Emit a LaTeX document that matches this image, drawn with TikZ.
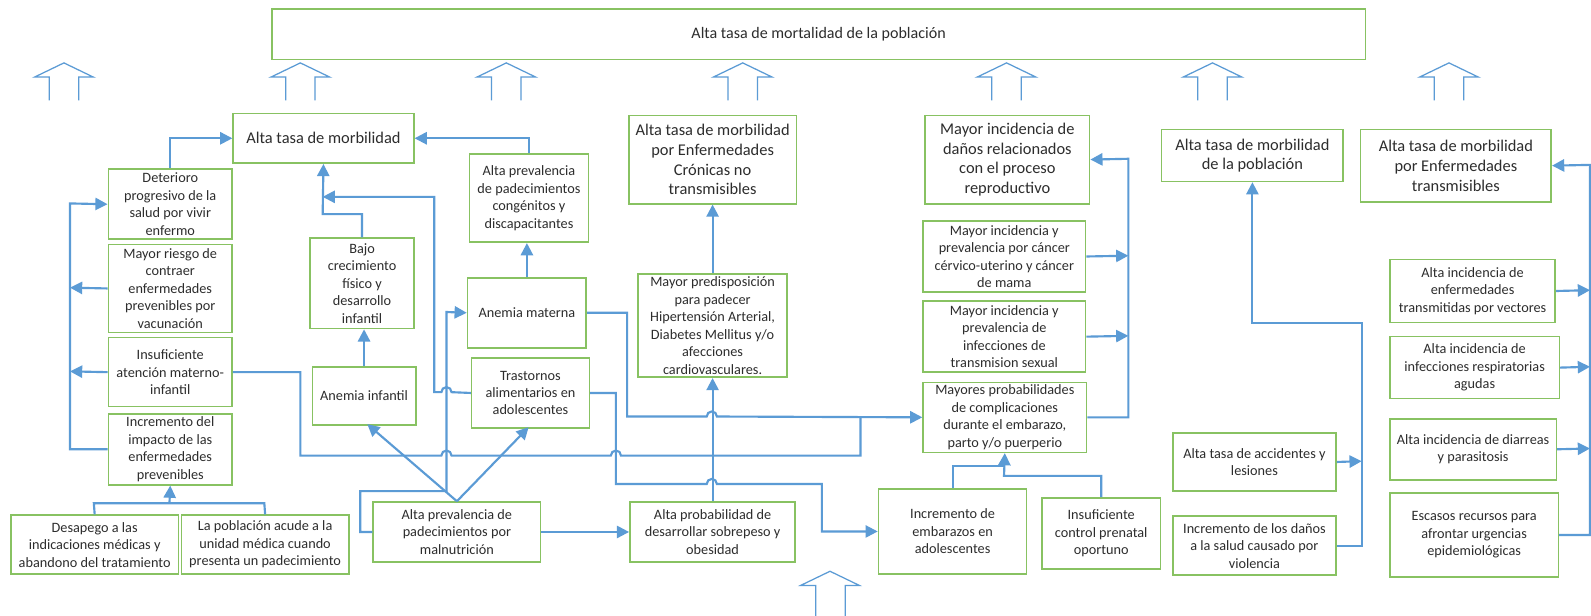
\documentclass[tikz,border=0pt]{standalone}
\usepackage{fontspec}
\setmainfont{Carlito}
\usetikzlibrary{arrows.meta}
\definecolor{verdecaja}{RGB}{136,194,98}
\definecolor{azullinea}{RGB}{91,155,213}
\definecolor{textogris}{RGB}{45,45,45}

\begin{document}
\begin{tikzpicture}[x=0.02cm, y=-0.02cm,
  caja/.style={draw=verdecaja, line width=0.9pt, fill=white, align=center, inner sep=1pt,
    text=textogris, font=\fontsize{8}{9.8}\selectfont, anchor=north west},
  cajag/.style={caja, font=\fontsize{9.2}{11.1}\selectfont},
  tam/.style 2 args={minimum width=#1*0.02cm, minimum height=#2*0.02cm},
  linea/.style={draw=azullinea, line width=1.2pt},
  flecha/.style={linea, -{Triangle[length=0.24cm, width=0.24cm]}},
  hueca/.style={draw=azullinea, line width=0.7pt}]
\useasboundingbox (0,0) rectangle (1568,607);
\fill[white] (0,0) rectangle (1568,607);

\node[caja, tam={1078}{50}, font=\fontsize{9}{11}\selectfont] (mort) at (267,8) {Alta tasa de mortalidad de la población};
\foreach \cx in {63,296,499,732,992,1195,1428}
  \draw[hueca] (\cx-14.5,99) -- (\cx-14.5,76) -- (\cx-29,76) -- (\cx,62) -- (\cx+29,76) -- (\cx+14.5,76) -- (\cx+14.5,99);
\draw[hueca] (804,607) -- (804,577) -- (789,577) -- (818,563) -- (847,577) -- (833,577) -- (833,607);

\node[cajag, tam={178}{49}] (morb) at (229,111) {Alta tasa de morbilidad};
\node[caja, tam={122}{69}] (deter) at (106,166) {Deterioro\\progresivo de la\\salud por vivir\\enfermo};
\node[caja, tam={122}{87}] (riesgo) at (106,240) {Mayor riesgo de\\contraer\\enfermedades\\prevenibles por\\vacunación};
\node[caja, tam={122}{68}] (insuf) at (106,332) {Insuficiente\\atención materno-\\infantil};
\node[caja, tam={122}{70}] (incr) at (106,407) {Incremento del\\impacto de las\\enfermedades\\prevenibles};
\node[caja, tam={165}{58}] (desap) at (10,507) {Desapego a las\\indicaciones médicas y\\abandono del tratamiento};
\node[caja, tam={165}{58}] (pobl) at (178,507) {La población acude a la\\unidad médica cuando\\presenta un padecimiento};
\node[caja, tam={102}{89}] (bajo) at (305,234) {Bajo\\crecimiento\\físico y\\desarrollo\\infantil};
\node[caja, tam={102}{57}] (aninf) at (307,361) {Anemia infantil};
\node[caja, tam={117}{87}] (congen) at (462,151) {Alta prevalencia\\de padecimientos\\congénitos y\\discapacitantes};
\node[caja, tam={117}{69}] (anmat) at (460,273) {Anemia materna};
\node[caja, tam={116}{69}] (trast) at (464,352) {Trastornos\\alimentarios en\\adolescentes};
\node[caja, tam={165}{59}] (malnut) at (367,494) {Alta prevalencia de\\padecimientos por\\malnutrición};
\node[caja, tam={163}{59}] (sobrep) at (620,494) {Alta probabilidad de\\desarrollar sobrepeso y\\obesidad};
\node[cajag, tam={165}{87}] (cronic) at (619,113) {Alta tasa de morbilidad\\por Enfermedades\\Crónicas no\\transmisibles};
\node[caja, tam={147}{102}] (predis) at (628,269) {Mayor predisposición\\para padecer\\Hipertensión Arterial,\\Diabetes Mellitus y/o\\afecciones\\cardiovasculares.};
\node[cajag, tam={162}{87}] (repro) at (911,113) {Mayor incidencia de\\daños relacionados\\con el proceso\\reproductivo};
\node[caja, tam={160}{70}] (cancer) at (909,217) {Mayor incidencia y\\prevalencia por cáncer\\cérvico-uterino y cáncer\\de mama};
\node[caja, tam={160}{70}] (its) at (909,296) {Mayor incidencia y\\prevalencia de\\infecciones de\\transmision sexual};
\node[caja, tam={161}{69}] (compl) at (909,376) {Mayores probabilidades\\de complicaciones\\durante el embarazo,\\parto y/o puerperio};
\node[caja, tam={146}{84}] (embar) at (865,481) {Incremento de\\embarazos en\\adolescentes};
\node[caja, tam={117}{70}] (prenat) at (1026,490) {Insuficiente\\control prenatal\\oportuno};
\node[cajag, tam={179}{51}] (pobla) at (1144,127) {Alta tasa de morbilidad\\de la población};
\node[cajag, tam={188}{71}] (transm) at (1340,127) {Alta tasa de morbilidad\\por Enfermedades\\transmisibles};
\node[caja, tam={163}{62}] (vector) at (1369,255) {Alta incidencia de\\enfermedades\\transmitidas por vectores};
\node[caja, tam={167}{61}] (resp) at (1369,331) {Alta incidencia de\\infecciones respiratorias\\agudas};
\node[caja, tam={164}{60}] (diarr) at (1369,412) {Alta incidencia de diarreas\\y parasitosis};
\node[caja, tam={166}{83}] (escas) at (1369,485) {Escasos recursos para\\afrontar urgencias\\epidemiológicas};
\node[caja, tam={161}{57}] (accid) at (1155,426) {Alta tasa de accidentes y\\lesiones};
\node[caja, tam={161}{58}] (violen) at (1155,508) {Incremento de los daños\\a la salud causado por\\violencia};

\draw[flecha] (deter.north) |- (morb.west);
\draw[flecha] (incr.west) -| (69,200.5) -- (deter.west);
\draw[flecha] (riesgo.west) -- (69,283.5);
\draw[flecha] (insuf.west) -- (69,366);
\draw[linea] (desap.north) -- (92.5,496) -- (260.5,496) -- (pobl.north);
\draw[flecha] (167,496) -- (incr.south);
\draw[flecha] (aninf.north) -- (aninf.north |- bajo.south);
\draw[flecha] (bajo.north) |- (318,211) -- (morb.south);
\draw[flecha] (trast.west) -- (445,386.5) arc[start angle=0, end angle=-180, radius=5] -- (428,386.5) -- (428,194) -- (318,194);
\draw[flecha] (congen.north) |- (morb.east);
\draw[flecha] (anmat.north) -- (anmat.north |- congen.south);
\draw[flecha] (malnut.north) -- (362,418);
\draw[flecha] (malnut.north) -- (521,421);
\draw[flecha] (malnut.west) -| (355,484) -- (440,484) -- (440,307.5) -- (anmat.west);
\draw[flecha] (malnut.east) -- (sobrep.west);
\draw[flecha] (sobrep.north) -- (predis.south);
\draw[flecha] (predis.north) -- (cronic.south);
\draw[flecha] (anmat.east) -| (618,410.5) -- (696.5,410.5) arc[start angle=180, end angle=360, radius=5] -- (compl.west);
\draw[linea] (insuf.east) -| (296,449) -- (435,449) arc[start angle=180, end angle=360, radius=5] -- (602,449) arc[start angle=180, end angle=360, radius=5] -- (848,449) -- (848,410.5);
\draw[flecha] (trast.east) -| (607,477) -- (696.5,477) arc[start angle=180, end angle=360, radius=5] -- (810,477) |- (embar.west);
\draw[flecha] (cancer.east) -- (1112,252);
\draw[flecha] (its.east) -- (1112,331);
\draw[flecha] (compl.east) -| (1112,156.5) -- (repro.east);
\draw[linea] (embar.north) |- (989.5,459);
\draw[flecha] (prenat.north) |- (989.5,469) -- (compl.south);
\draw[flecha] (accid.east) -- (1342,454.5);
\draw[flecha] (violen.east) -| (1342,318) -| (pobla.south);
\draw[flecha] (escas.east) -| (1567,162.5) -- (transm.east);
\draw[flecha] (vector.east) -- (1567,286);
\draw[flecha] (resp.east) -- (1567,361.5);
\draw[flecha] (diarr.east) -- (1567,442);
\end{tikzpicture}
\end{document}
